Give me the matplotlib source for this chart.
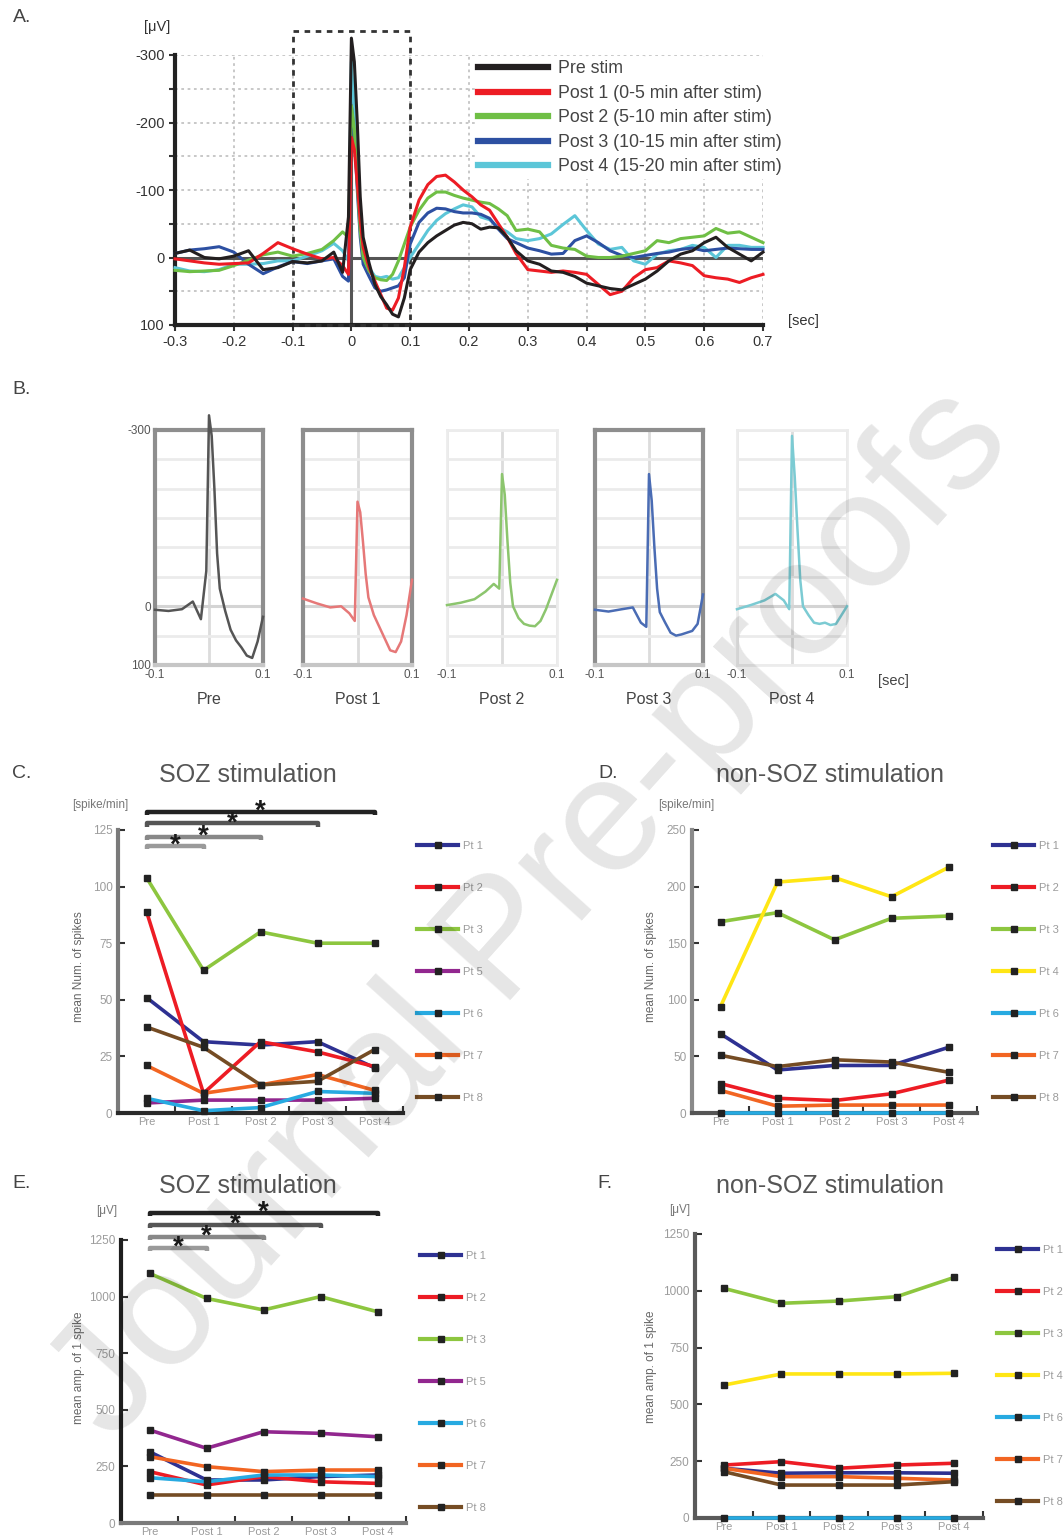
import numpy as np
import matplotlib
matplotlib.use("Agg")
import matplotlib.pyplot as plt
from matplotlib.patches import Rectangle
from matplotlib.lines import Line2D

plt.rcParams['font.family'] = ['Liberation Sans', 'DejaVu Sans']

# ---------------- data: panels A / B (averaged spike waveforms, uV) ----------------
time_s = [-0.3, -0.275, -0.25, -0.225, -0.2, -0.175, -0.15, -0.125, -0.1, -0.075,
          -0.05, -0.03, -0.015, -0.005, 0.0, 0.005, 0.01, 0.015, 0.02, 0.03,
          0.04, 0.05, 0.06, 0.07, 0.08, 0.09, 0.1, 0.115, 0.13, 0.145,
          0.16, 0.175, 0.19, 0.205, 0.22, 0.235, 0.25, 0.265, 0.28, 0.3,
          0.32, 0.34, 0.36, 0.38, 0.4, 0.42, 0.44, 0.46, 0.48, 0.5,
          0.52, 0.54, 0.56, 0.58, 0.6, 0.62, 0.64, 0.66, 0.68, 0.7]
wave_pre = [-6, -11, 0, 2, -2, -10, 18, 15, 6, 8,
            5, -8, 22, -60, -325, -290, -200, -90, -30, 8,
            40, 58, 70, 84, 88, 60, 18, -8, -22, -32,
            -40, -48, -52, -50, -42, -45, -44, -30, -10, 5,
            10, 20, 22, 28, 38, 42, 46, 48, 40, 32,
            20, 5, -5, -10, -22, -30, -15, -5, 5, -8]
wave_post1 = [2, 5, 8, 10, 9, 8, -6, -22, -13, -5,
              2, 0, 12, 25, -178, -160, -110, -55, -15, 15,
              35, 55, 75, 78, 60, 15, -45, -85, -108, -120,
              -122, -112, -100, -90, -78, -70, -50, -30, -6, 18,
              20, 22, 20, 22, 25, 40, 55, 50, 30, 18,
              15, 5, 8, 12, 27, 30, 32, 37, 30, 25]
wave_post2 = [19, 21, 20, 19, 12, 4, -4, -8, -2, -6,
              -12, -25, -38, -30, -225, -190, -110, -40, 0, 20,
              30, 33, 34, 25, 5, -20, -45, -70, -88, -97,
              -97, -92, -88, -85, -82, -80, -72, -62, -40, -42,
              -38, -18, -14, -12, -2, 0, 0, -2, -6, -10,
              -25, -22, -28, -30, -32, -43, -36, -38, -30, -22]
wave_post3 = [-6, -11, -13, -16, -8, 10, 24, 14, 6, 9,
              5, 2, 28, 35, -225, -180, -100, -30, 10, 28,
              45, 50, 48, 45, 42, 30, -20, -52, -66, -73,
              -72, -68, -66, -66, -64, -58, -42, -28, -22, -14,
              -10, -5, -6, -25, -32, -22, -10, -3, 0, -3,
              -6, -8, -12, -14, -10, -12, -14, -13, -12, -12]
wave_post4 = [15, 20, 21, 18, 10, 10, 9, 5, 5, -2,
              -10, -21, -10, 5, -290, -220, -130, -45, 0, 15,
              28, 30, 28, 32, 30, 15, 0, -20, -40, -55,
              -65, -72, -78, -75, -60, -56, -45, -38, -28, -25,
              -28, -35, -49, -62, -40, -20, -12, -15, 5, 10,
              -5, -10, -12, -18, -15, 0, -18, -18, -15, -15]

wave_labels = ["Pre stim", "Post 1 (0-5 min after stim)", "Post 2 (5-10 min after stim)",
               "Post 3 (10-15 min after stim)", "Post 4 (15-20 min after stim)"]
wave_short = ["Pre", "Post 1", "Post 2", "Post 3", "Post 4"]
a_xticks = [-0.3, -0.2, -0.1, 0.0, 0.1, 0.2, 0.3, 0.4, 0.5, 0.6, 0.7]
a_xticklabels = ["-0.3", "-0.2", "-0.1", "0", "0.1", "0.2", "0.3", "0.4", "0.5", "0.6", "0.7"]
a_yticks = [-300, -200, -100, 0, 100]
a_yticklabels = ["-300", "-200", "-100", "0", "100"]

# ---------------- data: panels C-F ----------------
sessions = ["Pre", "Post 1", "Post 2", "Post 3", "Post 4"]
soz_patients = ["Pt 1", "Pt 2", "Pt 3", "Pt 5", "Pt 6", "Pt 7", "Pt 8"]
nonsoz_patients = ["Pt 1", "Pt 2", "Pt 3", "Pt 4", "Pt 6", "Pt 7", "Pt 8"]

# C: SOZ stimulation, spike rate [spike/min]
c_pt1 = [51, 31.5, 30, 31.5, 20]
c_pt2 = [89, 8.7, 31.5, 27, 20.5]
c_pt3 = [104, 63, 80, 75, 75]
c_pt5 = [4.4, 5.7, 5.7, 5.7, 6.5]
c_pt6 = [6.5, 1, 2.4, 9.5, 8.7]
c_pt7 = [21, 8.7, 12.4, 17, 10]
c_pt8 = [38, 29, 12.4, 14, 28]
# D: non-SOZ stimulation, spike rate [spike/min]
d_pt1 = [70, 38, 42, 42, 58]
d_pt2 = [26, 13, 11, 17, 29]
d_pt3 = [169, 177, 153, 172, 174]
d_pt4 = [94, 204, 208, 191, 217]
d_pt6 = [0, 0, 0, 0, 0]
d_pt7 = [20, 6, 7, 7, 7]
d_pt8 = [51, 41, 47, 45, 36]
# E: SOZ stimulation, spike amplitude [uV]
e_pt1 = [315, 190, 190, 205, 212]
e_pt2 = [227, 168, 205, 182, 175]
e_pt3 = [1103, 992, 941, 1000, 933]
e_pt5 = [411, 330, 403, 396, 381]
e_pt6 = [200, 182, 212, 212, 205]
e_pt7 = [293, 249, 227, 234, 234]
e_pt8 = [124, 124, 124, 124, 124]
# F: non-SOZ stimulation, spike amplitude [uV]
f_pt1 = [219, 197, 199, 199, 197]
f_pt2 = [233, 248, 219, 233, 241]
f_pt3 = [1011, 945, 955, 974, 1059]
f_pt4 = [585, 634, 634, 634, 637]
f_pt6 = [0, 0, 0, 0, 0]
f_pt7 = [219, 182, 182, 175, 167]
f_pt8 = [204, 145, 145, 145, 160]

# significance brackets (Pre vs Post k) and their heights
sig_pairs = [(0, 1), (0, 2), (0, 3), (0, 4)]
c_sig_levels = [118, 122, 128, 133]
e_sig_levels = [1215, 1263, 1316, 1369]

# ---------------- styles ----------------
wave_colors = ['#231f20', '#ed1c24', '#6fbf45', '#2d50a2', '#5cc6d8']
wave_colors_b = ['#555555', '#e67878', '#8cc56e', '#4a6cb4', '#7ccbd3']
pt_colors = {"Pt 1": '#2e3192', "Pt 2": '#ed1c24', "Pt 3": '#8dc63f', "Pt 4": '#ffe614',
             "Pt 5": '#92278f', "Pt 6": '#27aae1', "Pt 7": '#f26522', "Pt 8": '#754c24'}
bracket_colors = ['#9a9a9a', '#888888', '#555555', '#222222']
TXT = '#444444'
LIGHT = '#9c9c9c'

W, H = 1063, 1537
fig = plt.figure(figsize=(W / 100, H / 100), dpi=100)


def px_axes(l, t, r, b):
    return fig.add_axes([l / W, 1 - b / H, (r - l) / W, (b - t) / H])


def ftext(x, y, s, **kw):
    fig.text(x / W, 1 - y / H, s, **kw)


# ======================= Panel A =======================
waves = [wave_pre, wave_post1, wave_post2, wave_post3, wave_post4]
axA = px_axes(175, 55, 763, 325)
zorders = [8, 7, 6, 5, 4]
for vals, col, lab, zo in zip(waves, wave_colors, wave_labels, zorders):
    axA.plot(time_s, vals, color=col, lw=2.2, clip_on=False, zorder=zo, label=lab)
axA.set_xlim(-0.3, 0.7)
axA.set_ylim(100, -300)
axA.set_yticks(a_yticks)
axA.set_yticklabels(a_yticklabels)
axA.set_yticks([-250, -150, -50, 50], minor=True)
axA.set_xticks(a_xticks)
axA.set_xticklabels(a_xticklabels)
axA.grid(True, which='both', ls=(0, (1.5, 2)), color='#c4c4c4', lw=1.3)
axA.set_axisbelow(True)
for s in ['top', 'right']:
    axA.spines[s].set_visible(False)
for s in ['left', 'bottom']:
    axA.spines[s].set_linewidth(3)
    axA.spines[s].set_color('#222222')
axA.axhline(0, color='#555555', lw=2.2, zorder=2)
axA.axvline(0, color='#555555', lw=2.2, zorder=2)
axA.tick_params(which='both', labelsize=10.5, colors='#333333', length=4, width=1.5)
axA.add_patch(Rectangle((-0.1, -335), 0.2, 435, fill=False, ec='#333333', lw=2,
                        ls=(0, (2, 2)), clip_on=False, zorder=3))
leg_handles = [Line2D([], [], color=c, lw=4.5) for c in wave_colors]
legA = axA.legend(leg_handles, wave_labels, loc='upper left',
                  bbox_to_anchor=(466 / W, 1 - 48 / H), bbox_transform=fig.transFigure,
                  fontsize=12.8, handlelength=3.9, handletextpad=0.55, labelspacing=0.42,
                  borderpad=0.2, framealpha=1, edgecolor='none', facecolor='white',
                  labelcolor=TXT)
legA.set_zorder(20)
ftext(22, 18, "A.", fontsize=14, color=TXT, ha='center', va='center')
ftext(157, 27, "[μV]", fontsize=10.5, color='#333333', ha='center', va='center')
ftext(803, 321, "[sec]", fontsize=10.5, color='#333333', ha='center', va='center')

# ======================= Panel B =======================
b_rects = [(155, 430, 263, 665), (303, 430, 412, 665), (447, 430, 557, 665),
           (595, 430, 703, 665), (737, 430, 847, 665)]
b_framed = [True, True, False, True, False]
t_arr = np.array(time_s)
win = (t_arr >= -0.1) & (t_arr <= 0.1)
for i, (vals, col, name, rect, framed) in enumerate(zip(waves, wave_colors_b, wave_short,
                                                        b_rects, b_framed)):
    ax = px_axes(*rect)
    ax.plot(t_arr[win], np.array(vals)[win], color=col, lw=1.8, clip_on=False, zorder=5)
    ax.set_xlim(-0.1, 0.1)
    ax.set_ylim(100, -300)
    ax.set_yticks(np.arange(-300, 101, 50))
    ax.set_xticks([-0.1, 0.0, 0.1])
    ax.set_xticklabels(["-0.1", "", "0.1"])
    if i == 0:
        ax.set_yticklabels(["-300" if v == -300 else ("0" if v == 0 else ("100" if v == 100 else ""))
                            for v in np.arange(-300, 101, 50)])
    else:
        ax.set_yticklabels([])
    ax.grid(True, axis='y', color='#ebebeb', lw=2)
    ax.grid(True, axis='x', color='#dcdcdc', lw=2)
    ax.axhline(0, color='#d4d4d4', lw=2.2, zorder=1)
    ax.set_axisbelow(True)
    ax.tick_params(length=0, labelsize=8.5, colors='#555555', pad=3)
    if framed:
        for s in ['top', 'left', 'right']:
            ax.spines[s].set_color('#8e8e8e')
            ax.spines[s].set_linewidth(3)
        ax.spines['bottom'].set_color('#c6c6c6')
        ax.spines['bottom'].set_linewidth(3)
    else:
        for s in ax.spines.values():
            s.set_color('#ececec')
            s.set_linewidth(2)
    ax.set_xlabel(name, fontsize=11.5, color='#444444', labelpad=8)
ftext(22, 390, "B.", fontsize=14, color=TXT, ha='center', va='center')
ftext(893, 681, "[sec]", fontsize=10.5, color='#444444', ha='center', va='center')

# ======================= Panels C-F =======================
c_data = {"Pt 1": c_pt1, "Pt 2": c_pt2, "Pt 3": c_pt3, "Pt 5": c_pt5,
          "Pt 6": c_pt6, "Pt 7": c_pt7, "Pt 8": c_pt8}
d_data = {"Pt 1": d_pt1, "Pt 2": d_pt2, "Pt 3": d_pt3, "Pt 4": d_pt4,
          "Pt 6": d_pt6, "Pt 7": d_pt7, "Pt 8": d_pt8}
e_data = {"Pt 1": e_pt1, "Pt 2": e_pt2, "Pt 3": e_pt3, "Pt 5": e_pt5,
          "Pt 6": e_pt6, "Pt 7": e_pt7, "Pt 8": e_pt8}
f_data = {"Pt 1": f_pt1, "Pt 2": f_pt2, "Pt 3": f_pt3, "Pt 4": f_pt4,
          "Pt 6": f_pt6, "Pt 7": f_pt7, "Pt 8": f_pt8}


def group_panel(rect, data, patients, ymax, ystep, left_col, bottom_col, leg_xy,
                sig_levels=None):
    ax = px_axes(*rect)
    x = np.arange(len(sessions))
    for p in patients:
        ax.plot(x, data[p], color=pt_colors[p], lw=2.6, marker='s', ms=4,
                mfc='#222222', mec='#222222', clip_on=False, zorder=4, label=p)
    ax.set_xlim(-0.5, len(sessions) - 0.5)
    ax.set_ylim(0, ymax)
    ax.set_yticks(np.arange(0, ymax + 1, ystep))
    ax.set_xticks(x)
    ax.set_xticklabels(sessions)
    ax.set_xticks(np.arange(0.5, len(sessions), 1.0), minor=True)
    for s in ['top', 'right']:
        ax.spines[s].set_visible(False)
    ax.spines['left'].set_color(left_col)
    ax.spines['left'].set_linewidth(3)
    ax.spines['bottom'].set_color(bottom_col)
    ax.spines['bottom'].set_linewidth(3)
    ax.tick_params(axis='y', direction='in', length=5, width=1.5, color='#333333',
                   labelsize=8.5, labelcolor=LIGHT, pad=4)
    ax.tick_params(axis='x', which='major', length=0, labelsize=8, labelcolor=LIGHT, pad=3)
    ax.tick_params(axis='x', which='minor', direction='in', length=5, width=1.5,
                   color='#333333')
    ax.patch.set_alpha(0)
    handles = [Line2D([], [], color=pt_colors[p], lw=3, marker='s', ms=4,
                      mfc='#222222', mec='#222222') for p in patients]
    ax.legend(handles, patients, loc='upper left',
              bbox_to_anchor=(leg_xy[0] / W, 1 - leg_xy[1] / H),
              bbox_transform=fig.transFigure, frameon=False, borderpad=0,
              borderaxespad=0, handlelength=3.7, handletextpad=0.4,
              labelspacing=2.88, fontsize=8, labelcolor=LIGHT, numpoints=1)
    if sig_levels is not None:
        tick = ymax * 0.012
        for (a, b), yv, col in zip(sig_pairs, sig_levels, bracket_colors):
            ax.plot([a, a, b, b], [yv - tick, yv, yv, yv - tick], color=col, lw=3.2,
                    clip_on=False, zorder=6, solid_capstyle='butt')
            ax.text((a + b) / 2, yv, "*", ha='center', va='center', fontsize=20,
                    fontweight='bold', color='#1a1a1a', clip_on=False, zorder=7)
    return ax


group_panel((118, 830, 403, 1113), c_data, soz_patients, 125, 25, '#7a7a7a', '#2a2a2a',
            (417, 841), c_sig_levels)
group_panel((692, 830, 977, 1113), d_data, nonsoz_patients, 250, 50, '#8a8a8a', '#555555',
            (993, 841))
group_panel((121, 1240, 406, 1523), e_data, soz_patients, 1250, 250, '#1e1e1e', '#7a7a7a',
            (420, 1251), e_sig_levels)
group_panel((695, 1234, 983, 1518), f_data, nonsoz_patients, 1250, 250, '#5a5a5a', '#5a5a5a',
            (997, 1245))

for x, y, tag in [(22, 773, "C."), (608, 773, "D."), (22, 1183, "E."), (605, 1183, "F.")]:
    ftext(x, y, tag, fontsize=14, color=TXT, ha='center', va='center')
for x, y, ttl in [(248, 775, "SOZ stimulation"), (830, 775, "non-SOZ stimulation"),
                  (248, 1186, "SOZ stimulation"), (830, 1186, "non-SOZ stimulation")]:
    ftext(x, y, ttl, fontsize=18, color='#555555', ha='center', va='center')
for x, y, u in [(100, 805, "[spike/min]"), (686, 805, "[spike/min]"),
                (107, 1211, "[μV]"), (680, 1210, "[μV]")]:
    ftext(x, y, u, fontsize=8.5, color='#777777', ha='center', va='center')
for x, y, yl in [(79, 967, "mean Num. of spikes"), (651, 967, "mean Num. of spikes"),
                 (79, 1368, "mean amp. of 1 spike"), (651, 1367, "mean amp. of 1 spike")]:
    ftext(x, y, yl, fontsize=8.5, color='#666666', rotation=90, ha='center', va='center')

# watermark
fig.text(0.50, 0.405, "Journal Pre-proofs", rotation=48, fontsize=118, color='black',
         alpha=0.1, ha='center', va='center', zorder=100, family='Liberation Sans',
         rotation_mode='anchor')

fig.savefig("out.png", dpi=100)
